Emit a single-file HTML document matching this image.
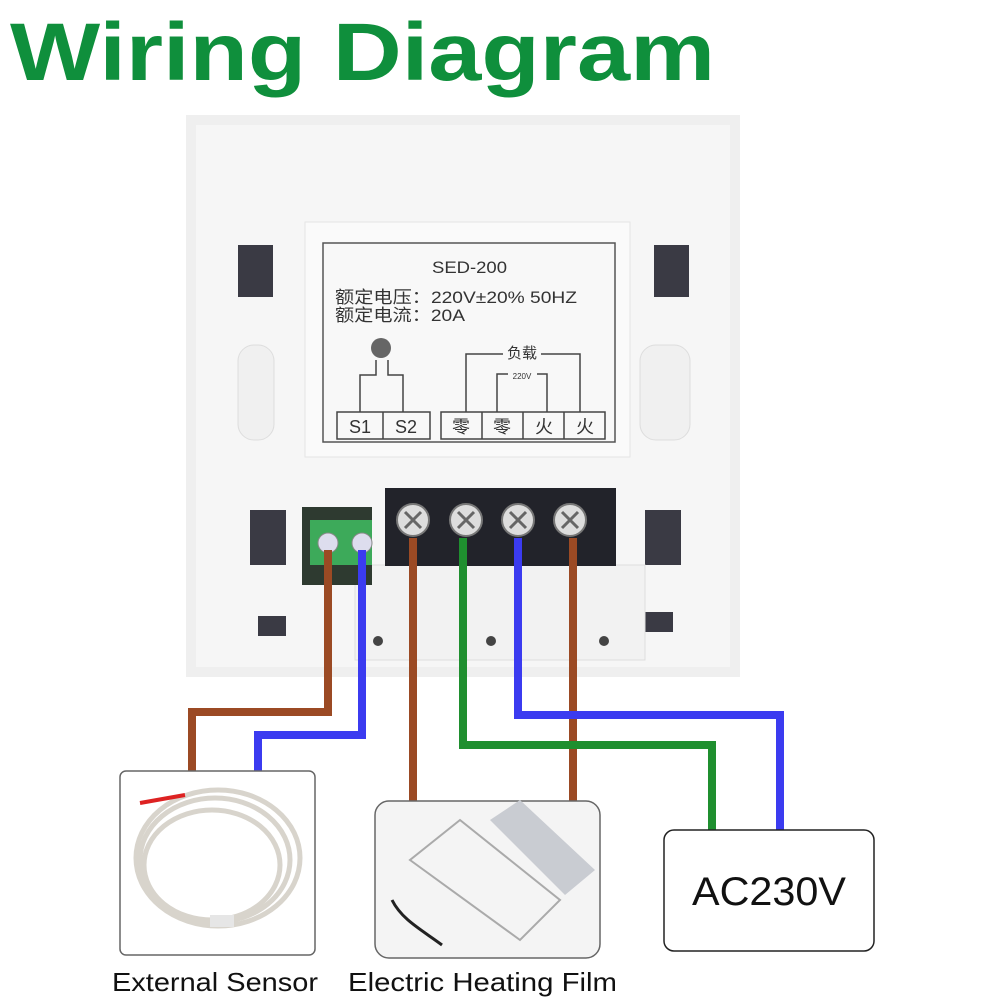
<!DOCTYPE html>
<html><head><meta charset="utf-8"><style>
body{margin:0;background:#fff;}
svg{display:block}
</style></head><body>
<svg width="1000" height="1000" viewBox="0 0 1000 1000" xmlns="http://www.w3.org/2000/svg">
<text x="10" y="80" font-family="Liberation Sans, sans-serif" font-weight="bold" font-size="82" fill="#0f8f3c" textLength="705" lengthAdjust="spacingAndGlyphs">Wiring Diagram</text>
<!-- panel -->
<rect x="186" y="115" width="554" height="562" fill="#efefef"/>
<rect x="196" y="125" width="534" height="542" fill="#f6f6f6"/>
<rect x="305" y="222" width="325" height="235" fill="#fafafa" stroke="#e4e4e4"/>
<rect x="323" y="243" width="292" height="199" fill="#f8f8f8" stroke="#555" stroke-width="1.5"/>
<!-- side slots -->
<rect x="238" y="245" width="35" height="52" fill="#3a3a44"/>
<rect x="654" y="245" width="35" height="52" fill="#3a3a44"/>
<rect x="238" y="345" width="36" height="95" rx="16" fill="#f0f0f0" stroke="#ddd"/>
<rect x="640" y="345" width="50" height="95" rx="16" fill="#f0f0f0" stroke="#ddd"/>
<rect x="250" y="510" width="36" height="55" fill="#3a3a44"/>
<rect x="645" y="510" width="36" height="55" fill="#3a3a44"/>
<rect x="258" y="616" width="28" height="20" fill="#3a3a44"/>
<rect x="645" y="612" width="28" height="20" fill="#3a3a44"/>
<!-- lower ledge -->
<rect x="355" y="565" width="290" height="95" fill="#f2f2f2" stroke="#ddd"/>
<circle cx="378" cy="641" r="5" fill="#444"/><circle cx="491" cy="641" r="5" fill="#444"/><circle cx="604" cy="641" r="5" fill="#444"/>
<!-- label -->
<g font-family="Liberation Sans, Noto Sans CJK SC, sans-serif" fill="#333">
<text x="432" y="273" font-size="17" textLength="75" lengthAdjust="spacingAndGlyphs">SED-200</text>
<text x="335" y="303" font-size="17" textLength="242" lengthAdjust="spacingAndGlyphs">额定电压：220V±20% 50HZ</text>
<text x="335" y="321" font-size="17" textLength="130" lengthAdjust="spacingAndGlyphs">额定电流：20A</text>
<text x="522" y="358" font-size="15" text-anchor="middle">负载</text>
<text x="522" y="379" font-size="8" text-anchor="middle">220V</text>
</g>
<g fill="none" stroke="#444" stroke-width="1.5">
<path d="M376 360V375H360V412M388 360V375H403V412"/>
<path d="M466 412V354H503M541 354H580V412"/>
<path d="M497 412V374H508M537 374H547V412"/>
<rect x="337" y="412" width="93" height="27"/>
<line x1="383" y1="412" x2="383" y2="439"/>
<rect x="441" y="412" width="164" height="27"/>
<line x1="482" y1="412" x2="482" y2="439"/><line x1="523" y1="412" x2="523" y2="439"/><line x1="564" y1="412" x2="564" y2="439"/>
</g>
<circle cx="381" cy="348" r="10" fill="#666"/>
<g font-family="Liberation Sans, Noto Sans CJK SC, sans-serif" font-size="18" fill="#333" text-anchor="middle">
<text x="360" y="433">S1</text><text x="406" y="433">S2</text>
<text x="461" y="433">零</text><text x="502" y="433">零</text><text x="544" y="433">火</text><text x="585" y="433">火</text>
</g>
<!-- terminal blocks -->
<rect x="302" y="507" width="70" height="78" fill="#2e3a30"/>
<rect x="310" y="520" width="62" height="45" fill="#3daa5a"/>
<circle cx="328" cy="543" r="10" fill="#dde" stroke="#888"/><circle cx="362" cy="543" r="10" fill="#dde" stroke="#888"/>
<rect x="385" y="488" width="231" height="78" fill="#22232a"/>
<g fill="#ddd" stroke="#777" stroke-width="2">
<circle cx="413" cy="520" r="16"/><circle cx="466" cy="520" r="16"/><circle cx="518" cy="520" r="16"/><circle cx="570" cy="520" r="16"/>
</g>
<g stroke="#666" stroke-width="3">
<path d="M405 512l16 16M421 512l-16 16M458 512l16 16M474 512l-16 16M510 512l16 16M526 512l-16 16M562 512l16 16M578 512l-16 16"/>
</g>
<!-- wires -->
<g fill="none" stroke-width="8" stroke-linejoin="miter">
<path d="M328 550V712H192V778" stroke="#9b4a24"/>
<path d="M362 550V735H258V778" stroke="#3b3bf0"/>
<path d="M413 538V802" stroke="#9b4a24"/>
<path d="M573 538V802" stroke="#9b4a24"/>
<path d="M463 538V745H712V832" stroke="#1f8f2f"/>
<path d="M518 538V715H780V832" stroke="#3b3bf0"/>
</g>
<!-- boxes -->
<rect x="120" y="771" width="195" height="184" rx="6" fill="#fff" stroke="#666" stroke-width="1.5"/>
<g fill="none" stroke="#d8d4cc" stroke-width="5">
<ellipse cx="215" cy="860" rx="75" ry="62"/><ellipse cx="212" cy="865" rx="68" ry="55"/><ellipse cx="218" cy="858" rx="82" ry="68"/>
</g>
<rect x="210" y="915" width="24" height="12" fill="#e6e6e6"/>
<path d="M140 803l45-8" stroke="#d22" stroke-width="4"/>
<rect x="375" y="801" width="225" height="157" rx="14" fill="#f4f4f4" stroke="#666" stroke-width="1.5"/>
<path d="M410 860l110 80 40-40-100-80z" fill="none" stroke="#aaa" stroke-width="2"/>
<path d="M490 820l30-20 75 70-30 25z" fill="#c9ccd2"/>
<path d="M392 900c10 20 30 30 50 45" fill="none" stroke="#222" stroke-width="3"/>
<rect x="664" y="830" width="210" height="121" rx="10" fill="#fff" stroke="#222" stroke-width="1.5"/>
<g font-family="Liberation Sans, sans-serif" fill="#111">
<text x="692" y="905" font-size="40" textLength="154" lengthAdjust="spacingAndGlyphs">AC230V</text>
<text x="112" y="991" font-size="26" textLength="206" lengthAdjust="spacingAndGlyphs">External Sensor</text>
<text x="348" y="991" font-size="26" textLength="269" lengthAdjust="spacingAndGlyphs">Electric Heating Film</text>
</g>
</svg>
</body></html>
